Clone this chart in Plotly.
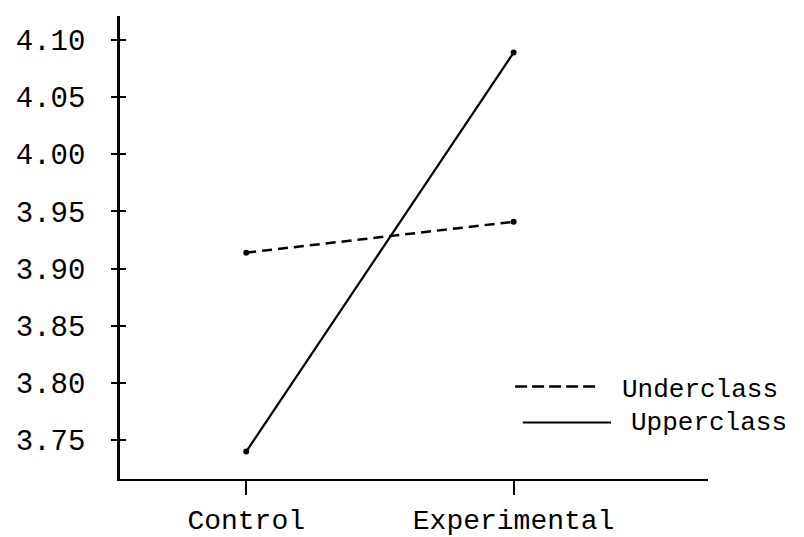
import plotly.graph_objects as go

conditions = ["Control", "Experimental"]
underclass = [3.914, 3.941]
upperclass = [3.740, 4.089]
y_ticks = [3.75, 3.80, 3.85, 3.90, 3.95, 4.00, 4.05, 4.10]
y_tick_labels = ["3.75", "3.80", "3.85", "3.90", "3.95", "4.00", "4.05", "4.10"]

FONT = "Liberation Mono"
x_pos = list(range(len(conditions)))

fig = go.Figure()
fig.add_trace(go.Scatter(
    x=x_pos, y=underclass, mode="lines+markers", name="Underclass",
    line=dict(color="black", width=2.5, dash="10px,6px"),
    marker=dict(color="black", size=6)))
fig.add_trace(go.Scatter(
    x=x_pos, y=upperclass, mode="lines+markers", name="Upperclass",
    line=dict(color="black", width=2.2),
    marker=dict(color="black", size=6)))

yr = [3.716, 4.121]
fig.update_layout(
    width=804, height=537,
    margin=dict(l=112, r=104, t=8, b=52),
    paper_bgcolor="white", plot_bgcolor="white",
    showlegend=False,
    font=dict(family=FONT, size=28, color="black"),
    xaxis=dict(range=[-0.472, 1.727], tickvals=x_pos, ticktext=conditions,
               showgrid=False, zeroline=False, showline=True, linecolor="black",
               linewidth=2, ticks="outside", ticklen=14, tickwidth=2,
               tickcolor="black", tickfont=dict(family=FONT, size=28)),
    yaxis=dict(range=yr, tickvals=y_ticks, ticktext=y_tick_labels,
               showgrid=False, zeroline=False, showline=True, linecolor="black",
               linewidth=2.5, ticks="outside", ticklen=6, tickwidth=2,
               tickcolor="black", ticklabelstandoff=20,
               tickfont=dict(family=FONT, size=29)),
    yaxis2=dict(range=yr, tickvals=y_ticks, overlaying="y", side="left",
                showticklabels=False, showgrid=False, zeroline=False,
                ticks="inside", ticklen=6, tickwidth=2, tickcolor="black"),
)
# invisible trace to activate yaxis2
fig.add_trace(go.Scatter(x=[None], y=[None], yaxis="y2", showlegend=False))

# custom legend
fig.add_shape(type="line", xref="paper", yref="y", x0=0.672, x1=0.813,
              y0=3.797, y1=3.797, line=dict(color="black", width=2.5, dash="12px,5px"))
fig.add_annotation(x=0.850, xref="paper", y=3.794, yref="y", xanchor="left",
                   text="Underclass", showarrow=False,
                   font=dict(family=FONT, size=26, color="black"))
fig.add_shape(type="line", xref="paper", yref="y", x0=0.685, x1=0.835,
              y0=3.7655, y1=3.7655, line=dict(color="black", width=2))
fig.add_annotation(x=0.866, xref="paper", y=3.765, yref="y", xanchor="left",
                   text="Upperclass", showarrow=False,
                   font=dict(family=FONT, size=26, color="black"))

fig.write_html("out.html")
